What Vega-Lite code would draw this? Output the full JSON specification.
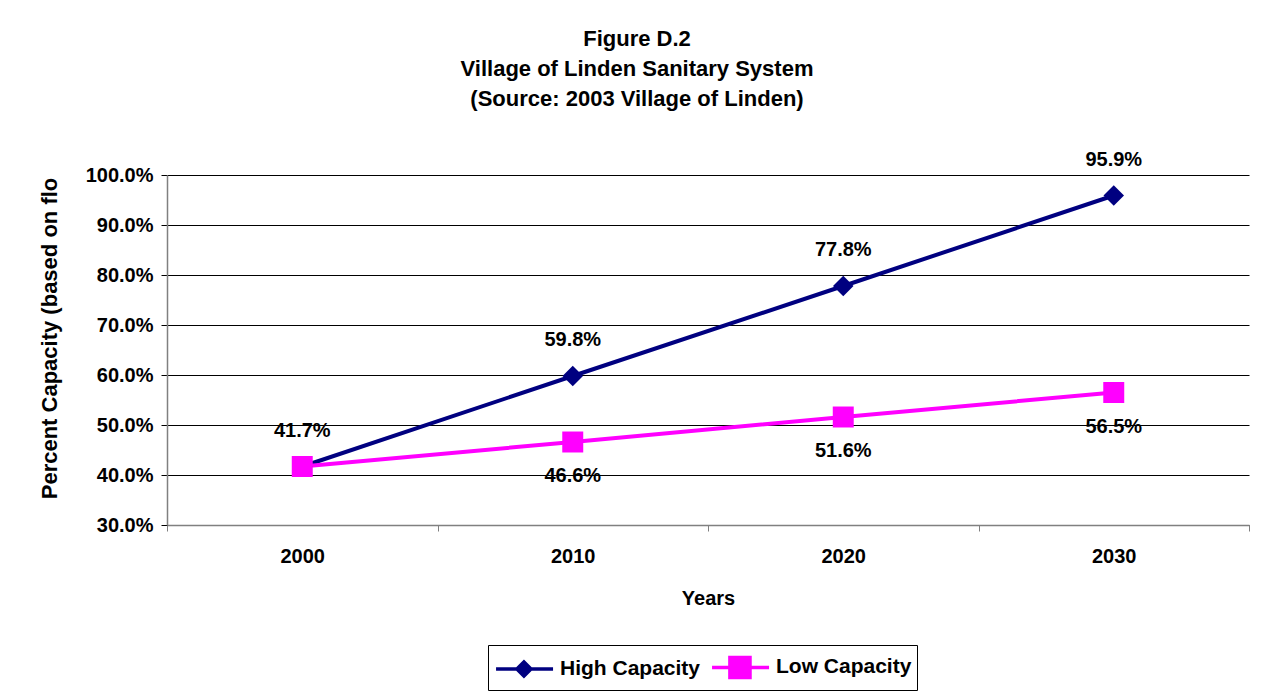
{
  "$schema": "https://vega.github.io/schema/vega-lite/v6.json",
  "width": 1082,
  "height": 350,
  "autosize": {"type": "none"},
  "padding": {"left": 167, "top": 175, "right": 27, "bottom": 169},
  "background": "white",
  "config": {
    "font": "Liberation Sans",
    "view": {"stroke": null}
  },
  "title": {
    "text": ["Figure D.2", "Village of Linden Sanitary System", "(Source:  2003 Village of Linden)"],
    "anchor": "middle",
    "frame": "group",
    "dx": -71,
    "offset": 39,
    "fontSize": 22,
    "fontWeight": "bold",
    "lineHeight": 30,
    "color": "black",
    "font": "Liberation Sans"
  },
  "data": {
    "values": [
      {"year": "2000", "series": "High Capacity", "value": 0.417, "label": "41.7%"},
      {"year": "2010", "series": "High Capacity", "value": 0.598, "label": "59.8%"},
      {"year": "2020", "series": "High Capacity", "value": 0.778, "label": "77.8%"},
      {"year": "2030", "series": "High Capacity", "value": 0.959, "label": "95.9%"},
      {"year": "2000", "series": "Low Capacity", "value": 0.417, "label": ""},
      {"year": "2010", "series": "Low Capacity", "value": 0.466, "label": "46.6%"},
      {"year": "2020", "series": "Low Capacity", "value": 0.516, "label": "51.6%"},
      {"year": "2030", "series": "Low Capacity", "value": 0.565, "label": "56.5%"}
    ]
  },
  "encoding": {
    "x": {
      "field": "year",
      "type": "ordinal",
      "scale": {"type": "band", "paddingInner": 0, "paddingOuter": 0},
      "axis": {
        "title": "Years",
        "titleFontSize": 20,
        "titleFontWeight": "bold",
        "titleColor": "black",
        "titlePadding": 22,
        "labelAngle": 0,
        "labelFontSize": 20,
        "labelFontWeight": "bold",
        "labelColor": "black",
        "labelPadding": 15,
        "tickBand": "extent",
        "tickColor": "#808080",
        "tickSize": 6,
        "domainColor": "#808080",
        "domainWidth": 1.5,
        "grid": false
      }
    },
    "y": {
      "field": "value",
      "type": "quantitative",
      "scale": {"domain": [0.3, 1.0], "nice": false, "zero": false},
      "axis": {
        "title": "Percent Capacity (based on flo",
        "titleFontSize": 22,
        "titleFontWeight": "bold",
        "titleColor": "black",
        "titlePadding": 24,
        "titleY": 163,
        "values": [0.3, 0.4, 0.5, 0.6, 0.7, 0.8, 0.9, 1.0],
        "format": ".1%",
        "labelFontSize": 20,
        "labelFontWeight": "bold",
        "labelColor": "black",
        "labelPadding": 8,
        "tickColor": "black",
        "tickSize": 6,
        "domainColor": "#808080",
        "domainWidth": 1.5,
        "grid": true,
        "gridColor": "black",
        "gridWidth": 1,
        "gridOpacity": 1
      }
    },
    "color": {
      "field": "series",
      "type": "nominal",
      "scale": {"domain": ["High Capacity", "Low Capacity"], "range": ["#000080", "#FF00FF"]},
      "legend": {
        "orient": "none",
        "legendX": 321,
        "legendY": 470,
        "direction": "horizontal",
        "title": null,
        "strokeColor": "black",
        "fillColor": "white",
        "padding": 5,
        "columnPadding": 4,
        "labelFont": "Liberation Sans",
        "labelFontSize": 21,
        "labelFontWeight": "bold",
        "labelColor": "black",
        "labelOffset": 33,
        "symbolSize": 900,
        "symbolStrokeWidth": 3.5,
        "symbolOpacity": 1,
        "encode": {
          "symbols": {
            "update": {
              "shape": {"signal": "datum.value === 'High Capacity' ? 'M-0.93,0L2.87,0M0.46,0L0.93,-0.47L1.4,0L0.93,0.47Z' : 'M-0.93,0L2.87,0M0.26,-0.67L1.6,-0.67L1.6,0.67L0.26,0.67Z'"},
              "fill": {"signal": "datum.value === 'High Capacity' ? '#000080' : '#FF00FF'"},
              "stroke": {"signal": "datum.value === 'High Capacity' ? '#000080' : '#FF00FF'"},
              "fillOpacity": {"value": 1},
              "strokeWidth": {"value": 3.5}
            }
          }
        }
      }
    }
  },
  "layer": [
    {
      "mark": {"type": "line", "strokeWidth": 4}
    },
    {
      "transform": [{"filter": "datum.series === 'High Capacity'"}],
      "mark": {"type": "point", "shape": "diamond", "filled": true, "size": 420, "opacity": 1}
    },
    {
      "transform": [{"filter": "datum.series === 'Low Capacity'"}],
      "mark": {"type": "point", "shape": "square", "filled": true, "size": 440, "opacity": 1}
    },
    {
      "transform": [{"filter": "datum.series === 'High Capacity'"}],
      "mark": {"type": "text", "dy": -36, "fontSize": 20, "fontWeight": "bold", "color": "black"},
      "encoding": {"text": {"field": "label"}, "color": {"value": "black"}}
    },
    {
      "transform": [{"filter": "datum.series === 'Low Capacity'"}],
      "mark": {"type": "text", "dy": 34, "fontSize": 20, "fontWeight": "bold", "color": "black"},
      "encoding": {"text": {"field": "label"}, "color": {"value": "black"}}
    }
  ]
}
